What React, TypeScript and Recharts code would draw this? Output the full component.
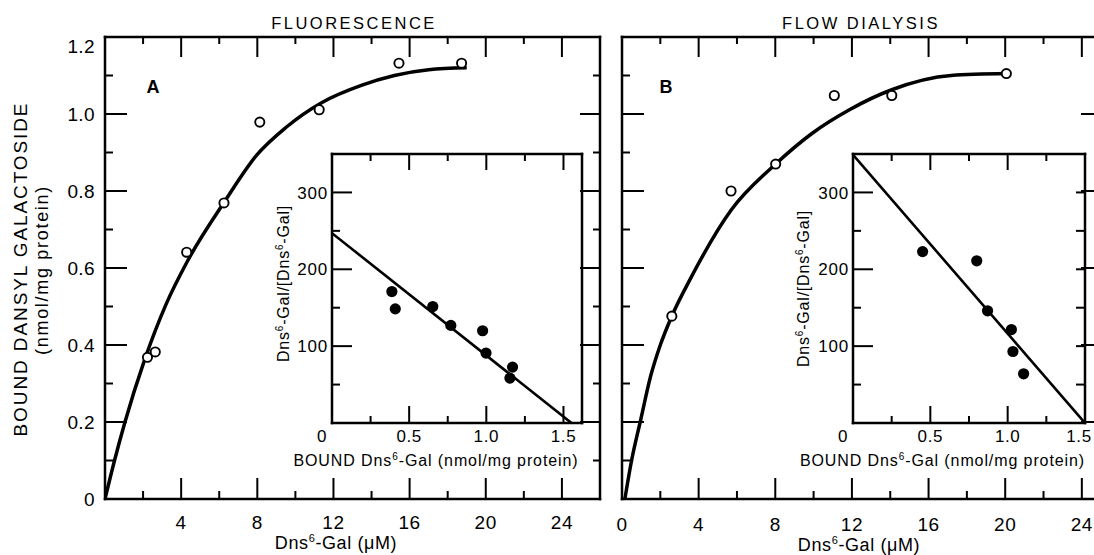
import React from "react";
import { ComposedChart, Line, Scatter, XAxis, YAxis } from "recharts";

const FONT = "'Liberation Sans', Arial, Helvetica, sans-serif";

// panel A - fluorescence (uM free vs nmol/mg bound)
const fluorConc = [2.23, 2.64, 4.29, 6.25, 8.13, 11.25, 15.44, 18.73];
const fluorBound = [0.368, 0.382, 0.641, 0.769, 0.979, 1.011, 1.132, 1.132];
const fluorCurveConc = [0, 0.5, 1.05, 2.07, 3.2, 4.3, 6.25, 8.0, 9.5, 11.4, 13.5, 15.2, 17.0, 19.0];
const fluorCurveBound = [0, 0.1, 0.2, 0.36, 0.505, 0.615, 0.77, 0.895, 0.965, 1.03, 1.075, 1.1, 1.115, 1.12];

// panel B - flow dialysis
const dialConc = [2.6, 5.69, 8.02, 11.08, 14.08, 20.06];
const dialBound = [0.475, 0.8, 0.87, 1.048, 1.048, 1.105];
const dialCurveConc = [0.15, 0.5, 0.95, 1.5, 2.0, 2.6, 3.6, 5.69, 8.02, 9.93, 11.87, 14.08, 17.18, 20.06];
const dialCurveBound = [0, 0.1, 0.2, 0.32, 0.4, 0.475, 0.575, 0.75, 0.87, 0.95, 1.011, 1.063, 1.1, 1.105];

// Scatchard insets
const scatABound = [0.388, 0.41, 0.653, 0.77, 0.976, 0.998, 1.17, 1.153];
const scatARatio = [171, 148.5, 151.5, 127, 120, 91, 72.7, 58.4];
const fitABound = [0, 1.552];
const fitARatio = [247, 0];

const scatBBound = [0.45, 0.8, 0.87, 1.024, 1.034, 1.103];
const scatBRatio = [223, 211, 146, 121.6, 93, 64];
const fitBBound = [0, 1.5];
const fitBRatio = [349, 0];

// ticks
const mainXTicks = [0, 2, 4, 6, 8, 10, 12, 14, 16, 18, 20, 22, 24];
const mainYTicks = [0, 0.1, 0.2, 0.3, 0.4, 0.5, 0.6, 0.7, 0.8, 0.9, 1.0, 1.1, 1.2];
const insetXTicks = [0, 0.25, 0.5, 0.75, 1.0, 1.25, 1.5];
const insetYTicks = [0, 50, 100, 150, 200, 250, 300];

const zip = (xs: number[], ys: number[]) => xs.map((x, i) => ({ x, y: ys[i] }));

type Side = "top" | "bottom" | "left" | "right";

interface TickOpts {
  isMajor: (v: number) => boolean;
  major: number;
  minor: number;
  label?: (v: number) => string | null;
  fontSize?: number;
  off?: number;
  dx?: (v: number) => number;
  dy?: (v: number) => number;
  spacing?: number;
}

function makeTick(side: Side, o: TickOpts) {
  return (props: any) => {
    const { x, y, payload } = props;
    const v = payload.value;
    const len = o.isMajor(v) ? o.major : o.minor;
    let line = null;
    if (len > 0) {
      if (side === "bottom") line = <line x1={x} y1={y} x2={x} y2={y - len} />;
      else if (side === "top") line = <line x1={x} y1={y} x2={x} y2={y + len} />;
      else if (side === "left") line = <line x1={x} y1={y} x2={x + len} y2={y} />;
      else line = <line x1={x} y1={y} x2={x - len} y2={y} />;
    }
    const txt = o.label ? o.label(v) : null;
    const fs = o.fontSize ?? 18;
    let label = null;
    if (txt) {
      const ddx = o.dx ? o.dx(v) : 0;
      const ddy = o.dy ? o.dy(v) : 0;
      if (side === "bottom") {
        label = (
          <text x={x + ddx} y={y + (o.off ?? 20) + ddy} textAnchor="middle" fontSize={fs}
            fontFamily={FONT} fill="#000" stroke="none" letterSpacing={o.spacing ?? 0}>
            {txt}
          </text>
        );
      } else if (side === "left") {
        label = (
          <text x={x - (o.off ?? 8) + ddx} y={y + fs * 0.36 + ddy} textAnchor="end" fontSize={fs}
            fontFamily={FONT} fill="#000" stroke="none" letterSpacing={o.spacing ?? 0}>
            {txt}
          </text>
        );
      }
    }
    return (
      <g stroke="#000" strokeWidth={2}>
        {line}
        {label}
      </g>
    );
  };
}

const frameLine = { stroke: "#000", strokeWidth: 2.5, strokeLinecap: "square" as const };

const mainXMajor = (v: number) => Math.round(v) % 4 === 0;
const mainYMajor = (v: number) => Math.round(v * 10) % 2 === 0;
const insetXMajor = (v: number) => Math.round(v * 100) % 50 === 0;
const insetYMajor = (v: number) => Math.round(v) % 100 === 0;

const openDot = (p: any) => (
  <circle cx={p.cx} cy={p.cy} r={4.6} fill="#fff" stroke="#000" strokeWidth={1.9} />
);
const filledDot = (p: any) => <circle cx={p.cx} cy={p.cy} r={5.6} fill="#000" />;

// axes take 1px each (a 0px axis is not drawn), margins are one less than the plot edges
function MainChart(props: {
  width: number;
  marginLeft: number;
  marginRight: number;
  xMax: number;
  curve: { x: number; y: number }[];
  points: { x: number; y: number }[];
  yLabels: boolean;
  zeroX: boolean;
  xOff: number;
}) {
  const { width, marginLeft, marginRight, xMax, curve, points, yLabels, zeroX, xOff } = props;
  return (
    <ComposedChart width={width} height={555}
      margin={{ top: 36, left: marginLeft - 1, right: marginRight - 1, bottom: 55 }}>
      <XAxis xAxisId="b" type="number" dataKey="x" orientation="bottom" domain={[0, xMax]}
        ticks={mainXTicks} interval={0} height={1} tickSize={0} tickMargin={0}
        allowDataOverflow axisLine={frameLine} tickLine={false}
        tick={makeTick("bottom", {
          isMajor: mainXMajor, major: 21, minor: 8, fontSize: 19, off: xOff, spacing: 0.6,
          label: (v) => (mainXMajor(v) && (v !== 0 || zeroX) ? String(v) : null),
        })} />
      <XAxis xAxisId="t" type="number" dataKey="x" orientation="top" domain={[0, xMax]}
        ticks={mainXTicks} interval={0} height={1} tickSize={0} tickMargin={0}
        allowDataOverflow axisLine={frameLine} tickLine={false}
        tick={makeTick("top", { isMajor: mainXMajor, major: 20, minor: 7 })} />
      <YAxis yAxisId="l" type="number" dataKey="y" orientation="left" domain={[0, 1.2]}
        ticks={mainYTicks} interval={0} width={1} tickSize={0} tickMargin={0}
        allowDataOverflow axisLine={frameLine} tickLine={false}
        tick={makeTick("left", {
          isMajor: mainYMajor, major: 22, minor: 8, fontSize: 19, off: 10, spacing: 0.4,
          dy: (v) => (v > 1.15 ? 9 : 0),
          label: (v) => (yLabels && mainYMajor(v) ? (v === 0 ? "0" : v.toFixed(1)) : null),
        })} />
      <YAxis yAxisId="r" type="number" dataKey="y" orientation="right" domain={[0, 1.2]}
        ticks={mainYTicks} interval={0} width={1} tickSize={0} tickMargin={0}
        allowDataOverflow axisLine={frameLine} tickLine={false}
        tick={makeTick("right", { isMajor: mainYMajor, major: 20, minor: 7 })} />
      <Line xAxisId="b" yAxisId="l" data={curve} dataKey="y" type="monotone" dot={false}
        stroke="#000" strokeWidth={3.5} isAnimationActive={false} />
      <Scatter xAxisId="t" yAxisId="r" data={points} dataKey="y" shape={openDot}
        isAnimationActive={false} />
    </ComposedChart>
  );
}

function InsetChart(props: {
  width: number;
  marginLeft: number;
  marginRight: number;
  xMax: number;
  fit: { x: number; y: number }[];
  points: { x: number; y: number }[];
  rightTicks: boolean;
  lastShift: number;
}) {
  const { width, marginLeft, marginRight, xMax, fit, points, rightTicks, lastShift } = props;
  return (
    <ComposedChart width={width} height={340}
      margin={{ top: 13, left: marginLeft - 1, right: marginRight - 1, bottom: 56 }}>
      <XAxis xAxisId="b" type="number" dataKey="x" orientation="bottom" domain={[0, xMax]}
        ticks={insetXTicks} interval={0} height={1} tickSize={0} tickMargin={0}
        allowDataOverflow axisLine={frameLine} tickLine={false}
        tick={makeTick("bottom", {
          isMajor: insetXMajor, major: 17, minor: 7, fontSize: 17, off: 19, spacing: 0.6,
          dx: (v) => (v === 0 ? -10 : v > 1.4 ? lastShift : 0),
          label: (v) => (insetXMajor(v) ? (v === 0 ? "0" : v.toFixed(1)) : null),
        })} />
      <XAxis xAxisId="t" type="number" dataKey="x" orientation="top" domain={[0, xMax]}
        ticks={insetXTicks} interval={0} height={1} tickSize={0} tickMargin={0}
        allowDataOverflow axisLine={frameLine} tickLine={false}
        tick={makeTick("top", { isMajor: insetXMajor, major: 16, minor: 7 })} />
      <YAxis yAxisId="l" type="number" dataKey="y" orientation="left" domain={[0, 350]}
        ticks={insetYTicks} interval={0} width={1} tickSize={0} tickMargin={0}
        allowDataOverflow axisLine={frameLine} tickLine={false}
        tick={makeTick("left", {
          isMajor: insetYMajor, major: 20, minor: 8, fontSize: 17, off: 4, spacing: 0.8,
          label: (v) => (insetYMajor(v) && v !== 0 ? String(v) : null),
        })} />
      <YAxis yAxisId="r" type="number" dataKey="y" orientation="right" domain={[0, 350]}
        ticks={insetYTicks} interval={0} width={1} tickSize={0} tickMargin={0}
        allowDataOverflow axisLine={frameLine} tickLine={false}
        tick={makeTick("right", { isMajor: insetYMajor, major: rightTicks ? 9 : 0, minor: rightTicks ? 9 : 0 })} />
      <Line xAxisId="b" yAxisId="l" data={fit} dataKey="y" type="linear" dot={false}
        stroke="#000" strokeWidth={2.6} isAnimationActive={false} />
      <Scatter xAxisId="t" yAxisId="r" data={points} dataKey="y" shape={filledDot}
        isAnimationActive={false} />
    </ComposedChart>
  );
}

function RatioLabel({ x, y }: { x: number; y: number }) {
  return (
    <text transform={`translate(${x},${y}) rotate(-90)`} textAnchor="middle" fontSize={16}
      fontFamily={FONT} letterSpacing={0.8}>
      <tspan>Dns</tspan>
      <tspan dy={-6} fontSize={10}>6</tspan>
      <tspan dy={6}>-Gal/[Dns</tspan>
      <tspan dy={-6} fontSize={10}>6</tspan>
      <tspan dy={6}>-Gal]</tspan>
    </text>
  );
}

function BoundLabel({ x, y }: { x: number; y: number }) {
  return (
    <text x={x} y={y} textAnchor="middle" fontSize={16} fontFamily={FONT} letterSpacing={0.9}>
      <tspan>BOUND Dns</tspan>
      <tspan dy={-6} fontSize={10}>6</tspan>
      <tspan dy={6}>-Gal (nmol/mg protein)</tspan>
    </text>
  );
}

function ConcLabel({ x, y }: { x: number; y: number }) {
  return (
    <text x={x} y={y} textAnchor="middle" fontSize={18} fontFamily={FONT} letterSpacing={0.6}>
      <tspan>Dns</tspan>
      <tspan dy={-7} fontSize={11}>6</tspan>
      <tspan dy={7}>-Gal (μM)</tspan>
    </text>
  );
}

export default function App() {
  return (
    <div style={{ position: "fixed", left: 0, top: 0, width: 1094, height: 555, overflow: "hidden", background: "#fff" }}>
      <div style={{ position: "absolute", left: 0, top: 0 }}>
        <MainChart width={610} marginLeft={105} marginRight={10} xMax={26}
          curve={zip(fluorCurveConc, fluorCurveBound)} points={zip(fluorConc, fluorBound)}
          yLabels zeroX={false} xOff={30} />
      </div>
      <div style={{ position: "absolute", left: 560, top: 0 }}>
        <MainChart width={560} marginLeft={62} marginRight={19} xMax={25}
          curve={zip(dialCurveConc, dialCurveBound)} points={zip(dialConc, dialBound)}
          yLabels={false} zeroX xOff={32} />
      </div>
      <div style={{ position: "absolute", left: 270, top: 140 }}>
        <InsetChart width={330} marginLeft={62} marginRight={18} xMax={1.62} lastShift={0}
          fit={zip(fitABound, fitARatio)} points={zip(scatABound, scatARatio)} rightTicks={false} />
      </div>
      <div style={{ position: "absolute", left: 790, top: 140 }}>
        <InsetChart width={320} marginLeft={63} marginRight={25} xMax={1.5} lastShift={-6}
          fit={zip(fitBBound, fitBRatio)} points={zip(scatBBound, scatBRatio)} rightTicks />
      </div>
      <svg width={1094} height={555} style={{ position: "absolute", left: 0, top: 0, pointerEvents: "none" }}>
        <text x={354} y={28.5} textAnchor="middle" fontSize={16.5} fontFamily={FONT} letterSpacing={2.5}>
          FLUORESCENCE
        </text>
        <text x={861} y={28.5} textAnchor="middle" fontSize={16.5} fontFamily={FONT} letterSpacing={2.5}>
          FLOW DIALYSIS
        </text>
        <text transform="translate(27,269) rotate(-90)" textAnchor="middle" fontSize={19}
          fontFamily={FONT} letterSpacing={1.9}>
          BOUND DANSYL GALACTOSIDE
        </text>
        <text transform="translate(48,270) rotate(-90)" textAnchor="middle" fontSize={18}
          fontFamily={FONT} letterSpacing={1.7}>
          (nmol/mg protein)
        </text>
        <text x={153} y={92.5} textAnchor="middle" fontSize={18} fontWeight="bold" fontFamily={FONT}>A</text>
        <text x={666} y={92.5} textAnchor="middle" fontSize={18} fontWeight="bold" fontFamily={FONT}>B</text>
        <ConcLabel x={336} y={548.5} />
        <ConcLabel x={859} y={550.5} />
        <RatioLabel x={289} y={283.5} />
        <RatioLabel x={809} y={288.5} />
        <BoundLabel x={436} y={466} />
        <BoundLabel x={942.5} y={466} />
      </svg>
    </div>
  );
}
